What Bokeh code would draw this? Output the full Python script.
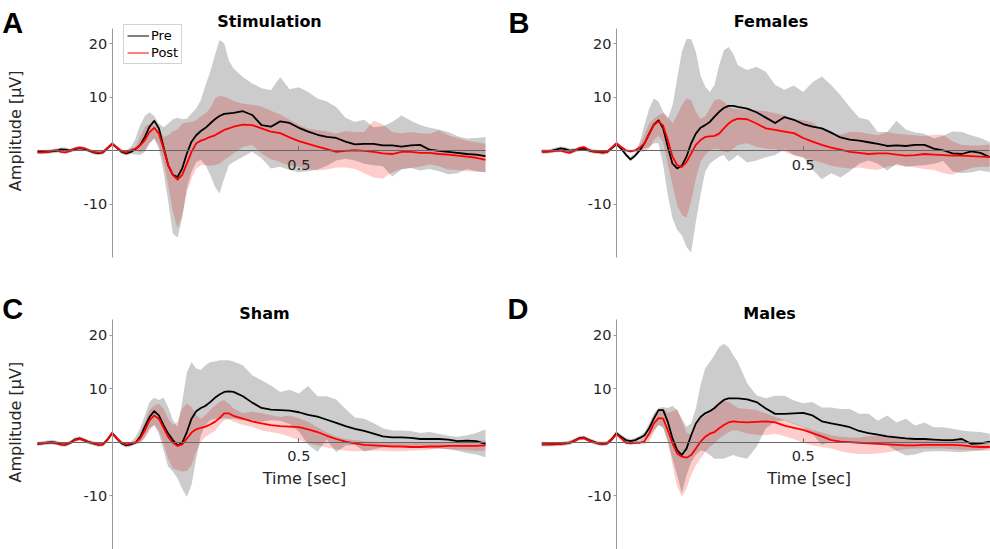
import math
from bokeh.plotting import figure
from bokeh.models import (ColumnDataSource, LinearAxis, FixedTicker, Label,
                          Legend, LegendItem, Range1d)
from bokeh.layouts import row, column
from bokeh.embed import file_html
from bokeh.resources import INLINE

# ---------------- data ----------------
T = [-0.2, -0.1875, -0.175, -0.1625, -0.15, -0.1375, -0.125, -0.1125, -0.1,
     -0.0875, -0.075, -0.0625, -0.05, -0.0375, -0.025, -0.0125, 0.0,
     0.0125, 0.025, 0.0375, 0.05, 0.0625, 0.075, 0.0875, 0.1, 0.1125, 0.125,
     0.1375, 0.15, 0.1625, 0.175, 0.1875, 0.2, 0.2125, 0.225, 0.2375, 0.25,
     0.2625, 0.275, 0.2875, 0.3, 0.3125, 0.325,
     0.35, 0.375, 0.4, 0.425, 0.45, 0.475, 0.5, 0.525, 0.55, 0.575, 0.6,
     0.625, 0.65, 0.675, 0.7, 0.725, 0.75, 0.775, 0.8, 0.825, 0.85, 0.875,
     0.9, 0.925, 0.95, 0.975, 1.0]

# Panel A - Stimulation
A_pre = [-0.2, -0.2, -0.2, -0.1, 0.0, 0.25, 0.2, 0.05, 0.3, 0.5, 0.35, 0.05, -0.3, -0.45, -0.3, 0.5, 1.3,
         0.6, -0.2, -0.5, -0.2,
         0.3, 1.1, 2.6, 4.5, 5.6, 4.2, 0.7, -2.7, -4.5, -4.9, -3.3, -0.5,
         1.7, 2.9, 3.7, 4.3, 5.1, 5.9, 6.5, 6.9, 7.0, 7.1,
         7.4, 6.7, 4.8, 4.5, 5.5,
         5.2, 4.3, 3.6, 3.0, 2.6, 2.4, 1.7, 1.2, 1.3, 1.3, 1.0, 1.0, 0.8, 1.0, 1.1, 0.2, 0.0, -0.2, -0.4, -0.6, -0.7, -1.0]
A_post = [-0.3, -0.3, -0.2, 0.0, 0.1, -0.2, -0.3, 0.0, 0.4, 0.6, 0.45, 0.1, -0.2, -0.35, -0.3, 0.5, 1.3,
          0.6, -0.1, -0.3, 0.1,
          0.4, 1.0, 2.0, 3.5, 4.3, 3.2, 0.4, -2.7, -4.5, -5.4, -4.5, -2.4,
          -0.2, 1.4, 1.9, 2.2, 2.6, 2.9, 3.4, 3.9, 4.2, 4.5,
          4.9, 4.8, 4.2, 3.6, 3.3,
          2.5, 1.8, 1.3, 0.8, 0.3, -0.2, 0.0, 0.1, 0.0, -0.2, -0.5, -0.6, -0.2, -0.2, -0.4, -0.4, -0.6, -0.7, -0.9, -1.1, -1.3, -1.7]
A_pre_hi = [0.2, 0.2, 0.2, 0.3, 0.4, 0.6, 0.6, 0.4, 0.7, 0.9, 0.7, 0.4, 0.1, -0.05, 0.1, 0.9, 1.7,
            1.0, 0.3, 0.1, 0.7,
            2.3, 4.8, 6.5, 7.2, 6.5, 5.1, 4.4, 5.1, 5.9, 6.2, 5.9, 6.0,
            7.0, 7.9, 9.5, 12.3, 14.8, 17.9, 20.7, 20.1, 16.9, 15.4,
            13.8, 12.6, 11.7, 11.3, 13.8,
            11.5, 11.9, 11.0, 9.8, 9.2, 8.2, 6.2, 5.4, 5.8, 4.4, 4.6, 5.4, 6.6, 5.6, 4.8, 4.3, 4.0, 3.5, 2.7, 2.3, 2.4, 2.6]
A_pre_lo = [-0.6, -0.6, -0.6, -0.5, -0.4, -0.1, -0.2, -0.3, -0.1, 0.1, 0.0, -0.3, -0.7, -0.85, -0.7, 0.1, 0.9,
            0.2, -0.6, -0.9, -0.6,
            -0.7, -0.8, -0.2, 1.4, 2.3, 0.4, -3.9, -9.5, -15.5, -16.2, -12.6, -7.0,
            -3.9, -2.1, -1.7, -2.7, -4.5, -6.7, -8.0, -5.2, -2.7, -2.1,
            -1.1, -0.2, -1.4, -3.3, -3.0,
            -3.6, -4.0, -3.8, -3.5, -2.8, -1.8, -1.5, -1.8, -2.4, -2.7, -2.9, -4.8, -3.5, -3.2, -3.7, -3.4, -3.8, -4.4, -4.2, -3.4, -3.8, -4.0]
A_post_hi = [0.0, 0.0, 0.1, 0.3, 0.4, 0.1, 0.0, 0.3, 0.7, 0.9, 0.75, 0.4, 0.1, -0.05, 0.0, 0.8, 1.6,
             0.9, 0.2, 0.0, 0.5,
             0.7, 2.6, 4.5, 5.1, 4.8, 4.2, 2.6, 2.9, 3.6, 4.0, 5.1, 5.3,
             5.4, 5.7, 6.4, 7.0, 7.9, 9.8, 10.3, 10.1, 9.8, 9.3,
             8.8, 8.6, 8.3, 7.5, 6.8,
             5.8, 4.8, 4.1, 3.9, 3.6, 3.2, 3.7, 3.5, 3.5, 5.6, 4.9, 3.5, 3.3, 3.5, 3.3, 3.2, 3.8, 2.9, 2.4, 1.9, 1.6, 1.3]
A_post_lo = [-0.6, -0.6, -0.5, -0.3, -0.2, -0.5, -0.6, -0.3, 0.1, 0.3, 0.15, -0.2, -0.5, -0.65, -0.6, 0.2, 1.0,
             0.3, -0.4, -0.6, -0.2,
             0.1, -0.3, 0.1, 1.4, 2.3, 1.1, -2.1, -6.4, -11.4, -14.5, -12.0, -7.7,
             -5.2, -3.3, -2.7, -2.7, -2.8, -2.7, -2.4, -1.7, -1.1, -0.5,
             0.7, 1.1, -0.5, -1.6, -2.1,
             -2.8, -3.0, -3.4, -3.7, -3.5, -3.1, -3.1, -3.4, -4.2, -5.0, -5.2, -4.0, -3.4, -3.2, -3.0, -2.5, -2.9, -3.5, -3.6, -3.8, -3.9, -4.0]

# Panel B - Females
B_pre = [-0.1, -0.1, 0.0, 0.2, 0.45, 0.3, 0.05, 0.1, 0.3, 0.4, 0.1, -0.1, -0.2, -0.35, -0.2, 0.5, 1.3,
         0.4, -0.7, -1.6, -0.9,
         0.1, 1.4, 3.2, 4.9, 5.7, 4.2, 0.7, -2.4, -3.3, -2.8, -1.1, 1.4,
         3.2, 4.3, 4.8, 5.4, 6.4, 7.3, 8.0, 8.4, 8.4, 8.2,
         7.9, 7.2, 6.2, 5.2, 6.3,
         5.8, 5.0, 4.5, 4.2, 3.4, 2.5, 2.1, 1.9, 1.6, 1.3, 0.9, 1.0, 0.9, 1.1, 1.1, 0.4, 0.1, -0.5, -0.6, -0.1, -0.4, -1.2]
B_post = [-0.2, -0.2, -0.1, 0.0, 0.05, -0.2, -0.4, 0.0, 0.5, 0.7, 0.2, -0.1, -0.2, -0.2, -0.2, 0.6, 1.4,
          0.7, 0.1, -0.1, 0.1,
          0.6, 1.4, 3.1, 4.8, 5.5, 4.7, 2.0, -1.1, -2.7, -3.0, -2.1, -0.5,
          1.1, 2.0, 2.6, 2.7, 2.8, 3.2, 4.2, 5.1, 5.7, 6.0,
          5.9, 5.1, 4.2, 3.9, 3.6,
          3.3, 2.4, 1.7, 1.1, 0.6, 0.2, -0.2, -0.4, -0.6, -0.5, -0.5, -0.7, -0.9, -0.8, -0.6, -0.7, -0.8, -0.9, -0.9, -1.0, -1.1, -1.2]
B_pre_hi = [0.3, 0.3, 0.4, 0.6, 0.85, 0.7, 0.45, 0.5, 0.7, 0.8, 0.5, 0.3, 0.2, 0.05, 0.2, 0.9, 1.7,
            0.8, -0.3, -1.1, -0.4,
            1.7, 4.8, 7.9, 9.8, 9.2, 7.3, 6.0, 8.5, 13.5, 18.5, 20.9, 20.9,
            18.5, 14.1, 12.0, 11.0, 12.3, 16.0, 18.8, 19.4, 18.2, 16.0,
            15.1, 15.7, 14.8, 12.3, 11.4,
            12.2, 11.0, 12.8, 13.9, 12.3, 10.4, 8.2, 6.2, 5.8, 3.5, 3.5, 5.6, 4.0, 3.4, 3.2, 2.3, 2.8, 3.6, 3.5, 2.9, 2.4, 1.6]
B_pre_lo = [-0.5, -0.5, -0.4, -0.2, 0.05, -0.1, -0.35, -0.3, -0.1, 0.0, -0.3, -0.5, -0.6, -0.75, -0.6, 0.1, 0.9,
            0.0, -1.1, -2.0, -1.3,
            -0.2, 0.4, 0.7, 1.4, 1.4, -2.7, -8.3, -12.6, -14.8, -15.8, -18.0, -19.0,
            -13.3, -8.3, -3.9, -2.4, -1.7, -1.1, -0.8, -2.0, -1.5, -0.8,
            -2.2, -1.8, -1.2, -0.8, 0.3,
            -0.8, -1.2, -3.5, -5.3, -4.2, -5.0, -3.8, -2.4, -1.8, -2.4, -3.7, -2.4, -3.0, -2.8, -2.7, -2.4, -1.9, -3.8, -4.2, -4.0, -3.7, -4.0]
B_post_hi = [0.1, 0.1, 0.2, 0.3, 0.35, 0.1, -0.1, 0.3, 0.8, 1.0, 0.5, 0.2, 0.1, 0.1, 0.1, 0.9, 1.7,
             1.0, 0.4, 0.2, 0.4,
             1.1, 2.9, 5.1, 6.0, 6.7, 7.0, 6.4, 5.1, 6.7, 8.5, 9.8, 9.5,
             7.3, 6.0, 6.4, 7.9, 9.5, 9.7, 9.2, 8.2, 7.9, 7.8,
             7.6, 7.6, 7.4, 7.0, 6.6,
             6.0, 5.7, 5.3, 4.0, 3.3, 3.0, 3.5, 3.5, 3.2, 2.9, 3.5, 3.2, 3.0, 2.9, 2.7, 3.0, 3.0, 1.8, 1.1, 1.0, 1.0, 1.2]
B_post_lo = [-0.5, -0.5, -0.4, -0.3, -0.25, -0.5, -0.7, -0.3, 0.2, 0.4, -0.1, -0.4, -0.5, -0.5, -0.5, 0.3, 1.1,
             0.4, -0.2, -0.4, -0.2,
             -0.2, -0.2, 0.4, 2.0, 2.8, 1.6, -2.7, -6.4, -10.2, -12.0, -12.5, -9.5,
             -5.2, -2.1, -0.8, 0.1, 0.4, 0.3, -0.2, -0.3, 0.4, 1.1,
             1.4, 0.7, 0.4, 0.3, -0.2,
             -0.9, -1.3, -1.8, -2.2, -2.8, -3.1, -3.3, -3.1, -3.4, -3.6, -3.0, -2.7, -2.9, -3.1, -3.4, -3.6, -4.2, -4.5, -3.8, -3.2, -3.0, -3.0]

# Panel C - Sham
C_pre = [-0.3, -0.2, -0.1, 0.0, -0.1, -0.4, -0.45, -0.1, 0.5, 0.7, 0.4, 0.0, -0.2, -0.45, -0.4, 0.5, 1.7,
         0.7, -0.2, -0.6, -0.4,
         -0.1, 1.0, 2.9, 4.7, 5.8, 5.0, 3.2, 1.6, 0.4, -0.6, -0.1, 1.9,
         4.4, 5.8, 6.4, 6.8, 7.5, 8.3, 8.9, 9.4, 9.5, 9.4,
         8.6, 7.4, 6.4, 6.1, 6.0,
         5.9, 5.6, 5.1, 4.8, 4.2, 3.6, 3.0, 2.5, 2.1, 1.6, 1.1, 0.9, 0.9, 0.8, 0.6, 0.6, 0.6, 0.5, 0.2, 0.3, 0.2, -0.3]
C_post = [-0.3, -0.2, -0.1, -0.1, -0.2, -0.4, -0.4, -0.1, 0.4, 0.6, 0.4, 0.0, -0.2, -0.45, -0.4, 0.5, 1.7,
          0.7, -0.1, -0.4, -0.2,
          -0.1, 0.7, 2.2, 4.1, 5.0, 4.4, 2.7, 1.0, -0.1, -0.7, -0.4, 0.7,
          1.8, 2.4, 2.7, 2.9, 3.3, 3.8, 4.5, 5.4, 5.4, 4.9,
          4.4, 3.9, 3.5, 3.2, 3.0,
          2.9, 2.8, 2.4, 1.9, 1.2, 0.6, 0.1, -0.2, -0.5, -0.6, -0.7, -0.8, -0.8, -0.9, -0.9, -0.8, -0.8, -0.7, -0.7, -0.7, -0.7, -0.6]
C_pre_hi = [0.1, 0.2, 0.3, 0.4, 0.3, 0.0, -0.05, 0.3, 0.9, 1.1, 0.8, 0.4, 0.2, -0.05, 0.0, 0.9, 2.1,
            1.1, 0.2, -0.2, 0.0,
            1.0, 2.6, 5.0, 7.5, 8.3, 7.9, 8.3, 6.6, 4.1, 2.9, 7.5, 13.1,
            15.0, 13.8, 13.5, 14.4, 15.0, 15.1, 15.3, 15.3, 15.3, 15.1,
            14.4, 12.5, 11.6, 10.6, 9.4,
            9.8, 9.1, 10.5, 8.6, 8.6, 8.0, 6.2, 4.6, 4.4, 3.6, 2.6, 2.2, 2.2, 2.1, 1.7, 1.9, 1.6, 1.2, 1.0, 1.3, 1.7, 2.4]
C_pre_lo = [-0.7, -0.6, -0.5, -0.4, -0.5, -0.8, -0.85, -0.5, 0.1, 0.3, 0.0, -0.4, -0.6, -0.85, -0.8, 0.1, 1.3,
            0.3, -0.6, -1.0, -0.8,
            -0.4, -0.1, 1.0, 2.6, 3.2, 1.6, -1.5, -4.6, -5.5, -6.8, -8.7, -10.2,
            -8.0, -3.1, 1.3, 3.2, 4.1, 4.4, 4.3, 4.5, 4.4, 4.4,
            4.1, 4.1, 3.8, 4.1, 4.0,
            3.4, 2.0, -0.5, -1.8, 0.5, -1.9, -0.6, -0.5, -1.7, -1.3, -1.0, -0.8, -0.6, -0.8, -1.0, -1.2, -1.2, -1.3, -1.6, -2.0, -2.3, -2.8]
C_post_hi = [0.0, 0.1, 0.2, 0.2, 0.1, -0.1, -0.1, 0.2, 0.7, 0.9, 0.7, 0.3, 0.1, -0.15, -0.1, 0.8, 2.0,
             1.0, 0.2, -0.1, 0.1,
             0.3, 1.6, 3.8, 6.0, 6.8, 7.2, 6.3, 4.4, 3.2, 3.8, 6.3, 7.2,
             6.6, 5.1, 4.4, 5.1, 6.0, 6.8, 7.5, 7.9, 7.2, 6.3,
             5.4, 5.7, 5.4, 5.1, 4.7,
             5.0, 4.5, 3.8, 2.8, 1.8, 1.0, 0.6, 0.4, 0.2, 0.1, 0.0, -0.1, -0.2, -0.2, -0.1, 0.0, 0.0, 0.1, 0.2, 0.2, 0.3, 0.3]
C_post_lo = [-0.6, -0.5, -0.4, -0.4, -0.5, -0.7, -0.7, -0.4, 0.1, 0.3, 0.1, -0.3, -0.5, -0.75, -0.7, 0.2, 1.4,
             0.4, -0.4, -0.7, -0.5,
             -0.4, -0.1, 0.7, 2.2, 3.2, 2.2, -0.2, -3.1, -4.9, -5.2, -5.5, -5.4,
             -4.3, -1.8, 0.1, 1.0, 1.6, 2.1, 3.2, 4.1, 4.3, 3.8,
             3.2, 2.9, 2.2, 1.9, 1.6,
             1.0, 0.4, -0.2, -0.6, -1.0, -1.3, -1.6, -1.7, -1.7, -1.6, -1.6, -1.7, -1.7, -1.6, -1.5, -1.4, -1.2, -1.3, -1.4, -1.5, -1.6, -1.6]

# Panel D - Males
D_pre = [-0.4, -0.4, -0.4, -0.35, -0.3, -0.2, -0.1, 0.3, 0.75, 0.85, 0.45, 0.1, -0.2, -0.3, -0.2, 0.6, 1.7,
         1.0, 0.4, 0.2, 0.4,
         0.8, 1.3, 2.6, 4.4, 6.0, 6.0, 3.8, 0.7, -1.5, -2.4, -1.2, 1.3,
         3.5, 4.7, 5.4, 5.8, 6.4, 7.2, 7.9, 8.2, 8.2, 8.2,
         8.0, 7.5, 6.3, 5.3, 5.3,
         5.4, 5.5, 5.0, 3.9, 3.5, 3.2, 2.8, 2.1, 1.7, 1.4, 1.1, 0.9, 0.7, 0.6, 0.6, 0.5, 0.4, 0.4, 0.6, -0.3, -0.2, 0.1]
D_post = [-0.4, -0.35, -0.3, -0.3, -0.3, -0.2, -0.1, 0.3, 0.65, 0.75, 0.35, 0.0, -0.2, -0.3, -0.2, 0.5, 1.5,
          0.7, -0.1, -0.2, -0.1,
          -0.1, 0.2, 1.6, 3.5, 4.5, 4.4, 2.2, -0.2, -2.1, -2.7, -2.9, -2.4,
          -1.2, 0.1, 1.0, 1.6, 1.9, 2.6, 3.2, 3.7, 3.9, 3.8,
          3.7, 3.8, 3.9, 3.7, 3.1,
          2.7, 2.3, 1.7, 1.1, 0.4, 0.1, 0.0, -0.1, -0.2, -0.3, -0.4, -0.5, -0.6, -0.6, -0.5, -0.5, -0.5, -0.5, -0.6, -0.8, -0.9, -0.9]
D_pre_hi = [0.0, 0.0, 0.0, 0.05, 0.1, 0.2, 0.3, 0.7, 1.15, 1.25, 0.85, 0.5, 0.2, 0.1, 0.2, 1.0, 2.1,
            1.4, 0.8, 0.6, 0.8,
            1.2, 1.9, 3.5, 5.4, 6.4, 6.6, 6.4, 6.8, 6.0, 4.4, 2.9, 3.5,
            6.3, 10.7, 13.8, 15.0, 16.3, 17.8, 18.4, 17.8, 16.3, 15.0,
            11.0, 8.8, 8.2, 8.7, 8.7,
            7.8, 7.3, 7.5, 6.5, 6.5, 6.2, 6.2, 5.3, 5.3, 4.0, 5.0, 3.7, 4.4, 3.1, 3.7, 2.8, 2.8, 2.5, 2.2, 2.0, 1.9, 1.6]
D_pre_lo = [-0.8, -0.8, -0.8, -0.75, -0.7, -0.6, -0.5, -0.1, 0.35, 0.45, 0.05, -0.3, -0.6, -0.7, -0.6, 0.2, 1.3,
            0.6, 0.0, -0.2, 0.0,
            0.2, 0.6, 1.0, 2.2, 3.2, 2.6, 0.1, -3.1, -6.2, -9.5, -6.2, -3.7,
            -2.4, -1.5, -1.8, -2.4, -3.1, -3.1, -3.1, -2.7, -2.4, -2.7,
            -3.1, -0.9, 2.6, 3.8, 4.1,
            3.4, 2.8, 1.5, -0.5, 0.2, 0.1, 0.0, 0.0, -0.2, -0.4, -0.6, -1.6, -2.5, -2.3, -1.8, -1.7, -1.7, -1.8, -1.9, -1.7, -1.5, -1.2]
D_post_hi = [-0.1, -0.05, 0.0, 0.0, 0.0, 0.1, 0.2, 0.6, 0.95, 1.05, 0.65, 0.3, 0.1, 0.0, 0.1, 0.8, 1.8,
             1.0, 0.2, 0.1, 0.2,
             0.2, 1.0, 3.2, 5.0, 6.0, 6.3, 5.5, 5.8, 6.2, 4.0, 1.8, 1.5,
             3.2, 4.4, 5.0, 5.4, 6.6, 7.5, 7.7, 7.5, 7.0, 6.4,
             6.2, 6.0, 5.4, 4.7, 4.2,
             3.6, 2.9, 2.3, 1.8, 1.3, 1.0, 0.9, 0.9, 1.1, 1.2, 1.1, 0.9, 0.9, 0.7, 0.6, 0.4, 0.3, 0.3, 0.3, 0.1, 0.0, -0.2]
D_post_lo = [-0.7, -0.65, -0.6, -0.6, -0.6, -0.5, -0.4, 0.0, 0.35, 0.45, 0.05, -0.3, -0.5, -0.6, -0.5, 0.2, 1.2,
             0.4, -0.4, -0.5, -0.4,
             -0.4, -0.4, 0.1, 1.9, 3.2, 2.9, 0.1, -4.3, -8.3, -10.2, -8.7, -6.2,
             -4.3, -3.1, -1.8, -0.9, -0.2, 0.7, 1.3, 1.9, 2.2, 2.2,
             1.6, 1.4, 1.3, 1.6, 1.1,
             0.6, -0.1, -0.6, -0.9, -1.2, -1.7, -2.0, -2.2, -2.2, -2.1, -1.9, -1.6, -1.3, -1.2, -1.2, -1.2, -1.2, -1.3, -1.4, -1.5, -1.6, -1.6]

Y_TICKS = [-10, 10, 20]
X_TICKS = [0.5]
Y_BOUNDS = (-20, 22.9)
X_BOUNDS = (-0.2, 1.0)
TITLES = ["Stimulation", "Females", "Sham", "Males"]
LETTERS = ["A", "B", "C", "D"]
SERIES = ["Pre", "Post"]

PANEL_DATA = {
    "A": (A_pre, A_post, A_pre_lo, A_pre_hi, A_post_lo, A_post_hi),
    "B": (B_pre, B_post, B_pre_lo, B_pre_hi, B_post_lo, B_post_hi),
    "C": (C_pre, C_post, C_pre_lo, C_pre_hi, C_post_lo, C_post_hi),
    "D": (D_pre, D_post, D_pre_lo, D_pre_hi, D_post_lo, D_post_hi),
}
for k, arrs in PANEL_DATA.items():
    for a in arrs:
        assert len(a) == len(T), (k, len(a))

FONT = "DejaVu Sans"
PXS = 373.33        # pixels per second
PXV = 5.349         # pixels per microvolt

# figure boxes on the page: (left, top, width, height, screen x of t=0, screen y of v=0)
BOXES = [
    (0, 0, 495, 282, 111.7, 150.3),
    (495, 0, 495, 282, 616.0, 150.3),
    (0, 282, 495, 267, 111.7, 441.7),
    (495, 282, 495, 267, 616.0, 441.7),
]


def make_panel(idx):
    col, rw = idx % 2, idx // 2
    key = LETTERS[idx]
    pre, post, pre_lo, pre_hi, post_lo, post_hi = PANEL_DATA[key]
    left, top, W, H, ax0, ay0 = BOXES[idx]

    def tx(sx):
        return (sx - ax0) / PXS

    def vy(sy):
        return (ay0 - sy) / PXV

    p = figure(width=W, height=H, frame_width=W, frame_height=H,
               min_border_left=0, min_border_right=0,
               min_border_top=0, min_border_bottom=0,
               x_range=Range1d(tx(left), tx(left + W)),
               y_range=Range1d(vy(top + H), vy(top)),
               x_axis_type=None, y_axis_type=None,
               toolbar_location=None, output_backend="svg")
    p.outline_line_color = None
    p.background_fill_color = "white"
    p.border_fill_color = "white"

    src = ColumnDataSource(dict(t=T, pre=pre, post=post, pre_lo=pre_lo,
                                pre_hi=pre_hi, post_lo=post_lo, post_hi=post_hi))
    p.varea(x="t", y1="post_lo", y2="post_hi", source=src,
            fill_color="#ff0000", fill_alpha=0.2)
    p.varea(x="t", y1="pre_lo", y2="pre_hi", source=src,
            fill_color="#000000", fill_alpha=0.2)
    p.line("t", "pre", source=src, line_color="#000000", line_width=1.8,
           line_join="round")
    p.line("t", "post", source=src, line_color="#ff0000", line_width=1.8,
           line_join="round")

    yax = LinearAxis(fixed_location=0, bounds=Y_BOUNDS,
                     ticker=FixedTicker(ticks=Y_TICKS),
                     major_label_overrides={t: str(t) for t in Y_TICKS})
    yax.axis_line_color = "#999999"
    yax.major_tick_line_color = "#999999"
    yax.major_tick_in = 0
    yax.major_tick_out = 3
    yax.minor_tick_line_color = None
    yax.major_label_text_font = FONT
    yax.major_label_text_font_size = "14.5px"
    yax.major_label_text_color = "#262626"
    yax.major_label_standoff = 2
    p.add_layout(yax, "left")

    xax = LinearAxis(fixed_location=0, bounds=X_BOUNDS,
                     ticker=FixedTicker(ticks=X_TICKS))
    xax.axis_line_color = "#666666"
    xax.major_tick_line_color = "#666666"
    xax.major_tick_in = 4
    xax.major_tick_out = 0
    xax.minor_tick_line_color = None
    xax.major_label_text_font = FONT
    xax.major_label_text_font_size = "14.5px"
    xax.major_label_text_color = "#262626"
    xax.major_label_standoff = 9
    p.add_layout(xax, "below")

    # title
    tpos = {"A": (269, 20.8), "B": (770.5, 20.8), "C": (264, 312.5), "D": (769, 312.5)}[key]
    p.add_layout(Label(x=tx(tpos[0]), y=vy(tpos[1]), text=TITLES[idx],
                       text_font=FONT, text_font_size="16px", text_font_style="bold",
                       text_align="center", text_baseline="alphabetic",
                       text_color="#000000"))
    # panel letter
    lpos = {"A": (1.7, 22.7), "B": (508, 22.7), "C": (1.7, 308.5), "D": (507, 308.5)}[key]
    p.add_layout(Label(x=tx(lpos[0]), y=vy(lpos[1]), text=key,
                       text_font="Liberation Sans", text_font_size="29px",
                       text_font_style="bold", text_align="left",
                       text_baseline="alphabetic", text_color="#000000"))
    if col == 0:
        ay = 130.3 if rw == 0 else 421.7
        p.add_layout(Label(x=tx(15), y=vy(ay), text="Amplitude [μV]",
                           angle=math.pi / 2, text_font=FONT, text_font_size="16px",
                           text_align="center", text_baseline="middle",
                           text_color="#262626"))
    if rw == 1:
        xs = 304 if col == 0 else 808.7
        p.add_layout(Label(x=tx(xs), y=vy(478), text="Time [sec]",
                           text_font=FONT, text_font_size="16px",
                           text_align="center", text_baseline="middle",
                           text_color="#262626"))
    if idx == 0:
        # legend proxies (thin lines, nothing drawn in the plot area)
        r1 = p.line(x=[math.nan], y=[math.nan], line_color="#000000", line_width=1)
        r2 = p.line(x=[math.nan], y=[math.nan], line_color="#ff0000", line_width=1)
        leg = Legend(items=[LegendItem(label=SERIES[0], renderers=[r1]),
                            LegendItem(label=SERIES[1], renderers=[r2])],
                     location=(123, H - 64))
        leg.border_line_color = "#a6a6a6"
        leg.border_line_width = 1
        leg.background_fill_color = "white"
        leg.background_fill_alpha = 1.0
        leg.label_text_font = FONT
        leg.label_text_font_size = "13px"
        leg.label_text_color = "#000000"
        leg.glyph_width = 22
        leg.glyph_height = 15
        leg.label_height = 15
        leg.label_standoff = 2
        leg.padding = 3
        leg.spacing = 2
        leg.margin = 0
        p.add_layout(leg)
    return p


plots = [make_panel(i) for i in range(4)]
layout = column(row(plots[0], plots[1]), row(plots[2], plots[3]))
open("out.html", "w").write(file_html(layout, INLINE))
